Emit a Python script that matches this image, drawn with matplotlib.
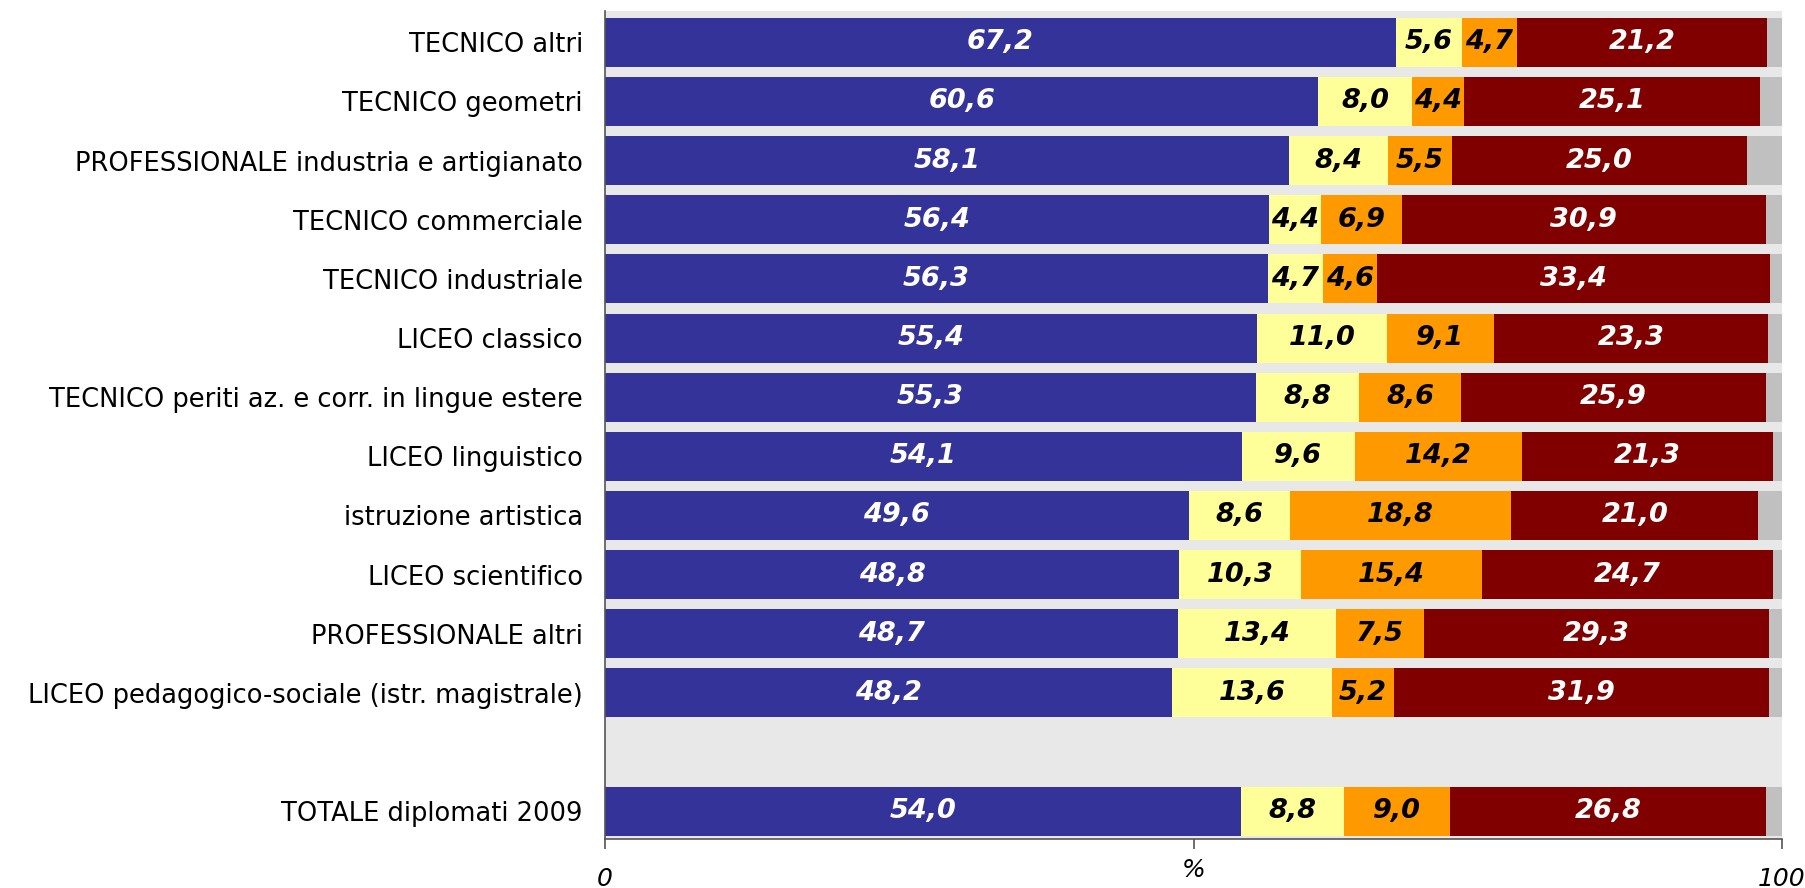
import numpy as np
import matplotlib.pyplot as plt

categories = [
    'TECNICO altri',
    'TECNICO geometri',
    'PROFESSIONALE industria e artigianato',
    'TECNICO commerciale',
    'TECNICO industriale',
    'LICEO classico',
    'TECNICO periti az. e corr. in lingue estere',
    'LICEO linguistico',
    'istruzione artistica',
    'LICEO scientifico',
    'PROFESSIONALE altri',
    'LICEO pedagogico-sociale (istr. magistrale)',
    'TOTALE diplomati 2009',
]
s_blue   = [67.2, 60.6, 58.1, 56.4, 56.3, 55.4, 55.3, 54.1, 49.6, 48.8, 48.7, 48.2, 54.0]
s_yellow = [5.6, 8.0, 8.4, 4.4, 4.7, 11.0, 8.8, 9.6, 8.6, 10.3, 13.4, 13.6, 8.8]
s_orange = [4.7, 4.4, 5.5, 6.9, 4.6, 9.1, 8.6, 14.2, 18.8, 15.4, 7.5, 5.2, 9.0]
s_red    = [21.2, 25.1, 25.0, 30.9, 33.4, 23.3, 25.9, 21.3, 21.0, 24.7, 29.3, 31.9, 26.8]
s_gray   = [1.3, 1.9, 3.0, 1.4, 1.0, 1.2, 1.4, 0.8, 2.0, 0.8, 1.1, 1.1, 1.4]

series = [s_blue, s_yellow, s_orange, s_red, s_gray]
colors = ['#333399', '#FFFF99', '#FF9900', '#800000', '#C0C0C0']
txt_colors = ['white', 'black', 'black', 'white', None]

# 12 rows, an empty slot, then the total row
ypos = np.array(list(range(12)) + [13])

fig = plt.figure(figsize=(18.05, 8.88), dpi=100)
ax = fig.add_axes([605 / 1805, 1 - 839 / 888, (1782 - 605) / 1805, (839 - 11) / 888])
ax.set_facecolor('#E8E8E8')

left = np.zeros(len(categories))
for vals, c, tc in zip(series, colors, txt_colors):
    vals = np.array(vals)
    ax.barh(ypos, vals, left=left, height=0.83, color=c, linewidth=0)
    if tc is not None:
        for y, l, v in zip(ypos, left, vals):
            ax.text(l + v / 2, y, f'{v:.1f}'.replace('.', ','), ha='center', va='center',
                    color=tc, fontsize=19.5, fontweight='bold', fontstyle='italic')
    left += vals

ax.set_xlim(0, 100)
ax.set_ylim(13.47, -0.53)
ax.set_yticks(ypos)
ax.set_yticklabels(categories, fontsize=18.5)
ax.tick_params(axis='y', length=0, pad=16)
ax.set_xticks([0, 50, 100])
ax.set_xticklabels(['0', '', '100'], fontsize=18, fontstyle='italic')
ax.tick_params(axis='x', length=7, width=1.2, color='#555555', pad=13)
ax.annotate('%', xy=(50, 0), xycoords=('data', 'axes fraction'), xytext=(0, -14),
            textcoords='offset points', ha='center', va='top', fontsize=18, fontstyle='italic')

for s in ['top', 'right']:
    ax.spines[s].set_visible(False)
for s in ['left', 'bottom']:
    ax.spines[s].set_color('#555555')
    ax.spines[s].set_linewidth(1.2)

fig.savefig('out.png', dpi=100)
